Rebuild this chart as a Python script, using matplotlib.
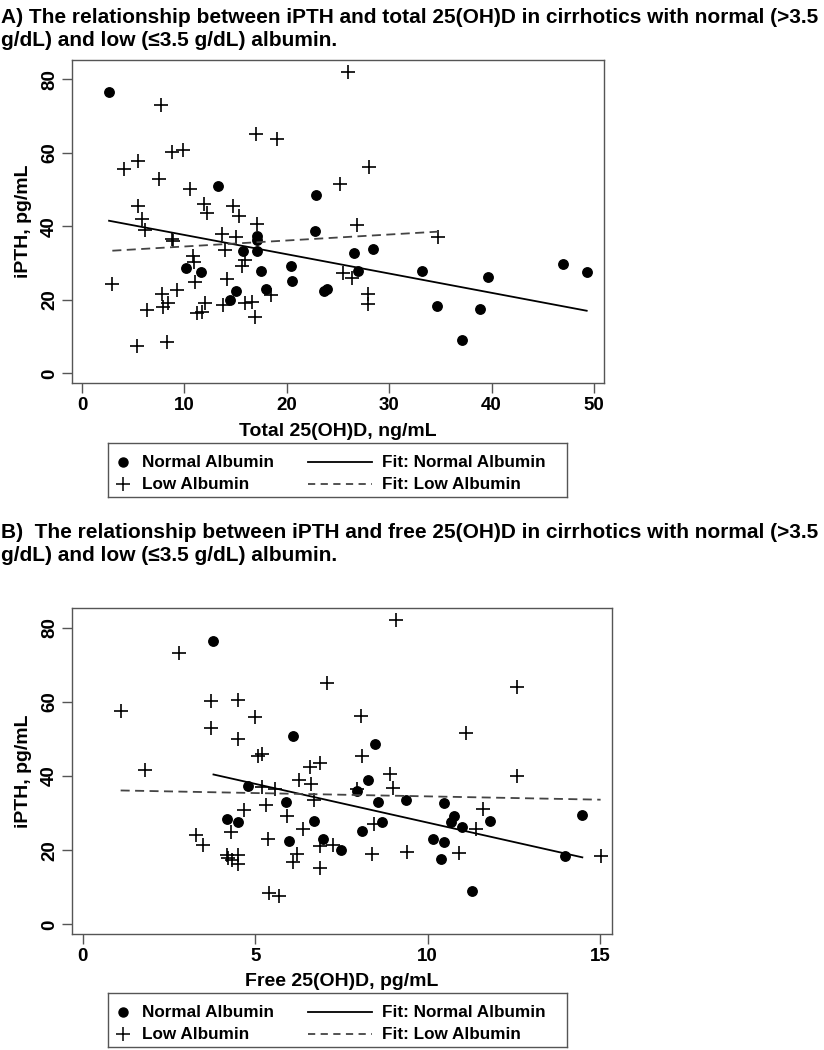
import numpy as np
import matplotlib.pyplot as plt

plt.rcParams['font.family'] = ['Liberation Sans', 'DejaVu Sans']
plt.rcParams['font.weight'] = 'bold'

# ---- panel A: total 25(OH)D (ng/mL) vs iPTH (pg/mL)
a_normal_x = [2.64, 13.28, 22.85, 22.75, 17.06, 17.06, 15.75, 17.06, 10.13, 11.65,
              17.45, 20.38, 20.48, 15.07, 14.48, 18.0, 26.56, 28.39, 26.92, 23.66,
              23.9, 33.23, 34.64, 39.62, 38.87, 37.08, 46.94, 49.29]
a_normal_y = [76.5, 51.0, 48.6, 38.9, 37.5, 36.3, 33.2, 33.2, 28.6, 27.6,
              28.0, 29.3, 25.2, 22.4, 20.0, 23.0, 32.7, 33.8, 28.0, 22.5,
              23.0, 27.9, 18.3, 26.3, 17.5, 9.1, 29.7, 27.5]
a_low_x = [7.71, 16.99, 19.01, 8.76, 9.89, 4.10, 5.50, 7.52, 10.55, 5.44,
           11.94, 12.18, 14.72, 15.36, 17.06, 5.83, 6.15, 25.98, 28.0, 25.2,
           26.83, 8.76, 8.92, 13.70, 15.01, 13.96, 10.87, 10.94, 15.92, 15.65,
           2.96, 11.04, 14.13, 9.25, 7.78, 7.94, 8.43, 6.32, 12.01, 11.20,
           11.69, 13.80, 15.92, 16.57, 16.89, 18.43, 5.40, 8.27, 34.79, 25.52,
           26.34, 27.96, 27.96]
a_low_y = [73.1, 65.2, 63.9, 60.2, 60.7, 55.7, 57.7, 53.0, 50.3, 45.6,
           46.2, 43.7, 45.7, 42.8, 40.8, 41.9, 39.1, 82.0, 56.3, 51.6,
           40.3, 36.7, 36.0, 37.9, 37.1, 33.5, 31.9, 30.3, 31.0, 29.2,
           24.3, 24.9, 25.6, 22.8, 21.6, 18.1, 19.2, 17.2, 19.2, 16.5,
           16.7, 18.6, 19.2, 19.5, 15.4, 21.3, 7.5, 8.6, 37.0, 27.2,
           26.0, 21.6, 18.8]
# fitted lines (intercept, slope) as drawn in the figure
a_fit_normal = (42.94, -0.525)
a_fit_low = (32.92, 0.163)

# ---- panel B: free 25(OH)D (pg/mL) vs iPTH (pg/mL)
b_normal_x = [3.79, 6.09, 8.47, 4.78, 5.89, 4.17, 4.49, 6.69, 5.99, 6.97,
              7.49, 8.28, 7.96, 8.57, 9.37, 10.48, 10.77, 10.67, 11.79, 11.0,
              8.67, 8.09, 10.16, 10.48, 14.48, 10.39, 13.99, 11.28]
b_normal_y = [76.3, 50.9, 48.5, 37.3, 33.1, 28.5, 27.5, 28.0, 22.5, 22.9,
              20.0, 38.8, 36.0, 33.1, 33.6, 32.6, 29.2, 27.5, 27.9, 26.3,
              27.6, 25.2, 23.0, 22.2, 29.5, 17.5, 18.4, 8.9]
b_low_x = [2.79, 7.07, 1.10, 3.71, 4.51, 4.99, 3.71, 4.51, 9.08, 12.6,
           8.06, 11.1, 5.09, 5.19, 1.81, 6.59, 6.88, 6.28, 6.61, 5.19,
           5.57, 6.70, 5.30, 4.68, 5.91, 6.39, 4.29, 3.28, 3.50, 5.36,
           6.88, 7.26, 6.20, 6.09, 6.88, 4.17, 4.22, 4.32, 4.51, 4.51,
           5.41, 5.69, 8.10, 8.91, 8.99, 7.96, 12.6, 11.59, 11.39, 8.45,
           8.39, 9.39, 10.91, 15.01]
b_low_y = [73.1, 65.1, 57.6, 60.1, 60.6, 55.9, 52.9, 50.1, 82.1, 64.0,
           56.3, 51.7, 45.4, 46.0, 41.7, 42.4, 43.6, 39.0, 37.95, 37.0,
           36.4, 33.5, 32.1, 30.8, 29.2, 25.7, 24.9, 24.2, 21.5, 22.9,
           21.1, 21.5, 19.1, 16.9, 15.2, 18.7, 17.8, 17.3, 18.7, 16.4,
           8.5, 7.6, 45.4, 40.6, 36.8, 36.5, 40.1, 31.0, 25.8, 27.0,
           19.1, 19.4, 19.3, 18.5]
b_fit_normal = (48.33, -2.09)
b_fit_low = (36.3, -0.179)

yticks = [0, 20, 40, 60, 80]
a_xticks = [0, 10, 20, 30, 40, 50]
b_xticks = [0, 5, 10, 15]

title_a = ['A) The relationship between iPTH and total 25(OH)D in cirrhotics with normal (>3.5',
           'g/dL) and low (\u22643.5 g/dL) albumin.']
title_b = ['B)  The relationship between iPTH and free 25(OH)D in cirrhotics with normal (>3.5',
           'g/dL) and low (\u22643.5 g/dL) albumin.']

W, H = 824, 1050
fig = plt.figure(figsize=(W / 100, H / 100), dpi=100)
frame_col = '#555555'


def px_rect(l, t, r, b):
    return [l / W, 1 - b / H, (r - l) / W, (b - t) / H]


def scatter_panel(rect, nx, ny, lx, ly, fit_n, fit_l, xticks, xlim, xlabel):
    ax = fig.add_axes(rect)
    ax.plot(nx, ny, 'o', color='black', ms=6.8, mec='black')
    ax.plot(lx, ly, '+', color='black', ms=10.5, mew=1.2)
    xs = np.array([min(nx), max(nx)])
    ax.plot(xs, fit_n[0] + fit_n[1] * xs, '-', color='black', lw=1.3)
    xs = np.array([min(lx), max(lx)])
    ax.plot(xs, fit_l[0] + fit_l[1] * xs, color='#444444', lw=1.3, dashes=(5, 3))
    ax.set_xlim(*xlim)
    ax.set_ylim(-2.6, 85.3)
    ax.set_xticks(xticks)
    ax.set_yticks(yticks)
    ax.tick_params(direction='out', length=7, width=1, color=frame_col,
                   labelsize=13.5, pad=3)
    ax.tick_params(axis='y', labelrotation=90)
    for lab in ax.get_yticklabels():
        lab.set_va('center')
    for s in ax.spines.values():
        s.set_color(frame_col)
        s.set_linewidth(1)
    ax.set_xlabel(xlabel, fontsize=14, fontweight='bold')
    ax.set_ylabel('iPTH, pg/mL', fontsize=14, fontweight='bold')
    return ax


def legend_panel(rect):
    lg = fig.add_axes(rect)
    lg.set_xlim(0, 1)
    lg.set_ylim(0, 1)
    lg.set_xticks([])
    lg.set_yticks([])
    for s in lg.spines.values():
        s.set_color(frame_col)
        s.set_linewidth(1)
    r1, r2 = 0.64, 0.24
    lg.plot([0.033], [r1], 'o', color='black', ms=6.5)
    lg.plot([0.033], [r2], '+', color='black', ms=10, mew=1.1)
    lg.plot([0.436, 0.575], [r1, r1], '-', color='black', lw=1.3)
    lg.plot([0.436, 0.575], [r2, r2], color='#444444', lw=1.3, dashes=(4, 3))
    kw = dict(fontsize=12.3, fontweight='bold', va='center', ha='left')
    lg.text(0.074, r1, 'Normal Albumin', **kw)
    lg.text(0.074, r2, 'Low Albumin', **kw)
    lg.text(0.597, r1, 'Fit: Normal Albumin', **kw)
    lg.text(0.597, r2, 'Fit: Low Albumin', **kw)


for i, line in enumerate(title_a):
    fig.text(1 / W, 1 - (23 + 23 * i) / H, line, fontsize=15, fontweight='bold',
             va='baseline', ha='left')
for i, line in enumerate(title_b):
    fig.text(1 / W, 1 - (538 + 23 * i) / H, line, fontsize=15, fontweight='bold',
             va='baseline', ha='left')

ax_a = scatter_panel(px_rect(72, 60, 604, 383), a_normal_x, a_normal_y, a_low_x, a_low_y,
                     a_fit_normal, a_fit_low, a_xticks, (-0.98, 50.98),
                     'Total 25(OH)D, ng/mL')
ax_a.yaxis.set_label_coords(-0.075, 0.5)
ax_a.xaxis.set_label_coords(0.5, -0.125)
legend_panel(px_rect(108, 443, 567, 497))

ax_b = scatter_panel(px_rect(72, 608, 612, 934), b_normal_x, b_normal_y, b_low_x, b_low_y,
                     b_fit_normal, b_fit_low, b_xticks, (-0.31, 15.34),
                     'Free 25(OH)D, pg/mL')
ax_b.yaxis.set_label_coords(-0.074, 0.5)
ax_b.xaxis.set_label_coords(0.5, -0.12)
legend_panel(px_rect(108, 993, 567, 1047))

fig.savefig('out.png', dpi=100)
